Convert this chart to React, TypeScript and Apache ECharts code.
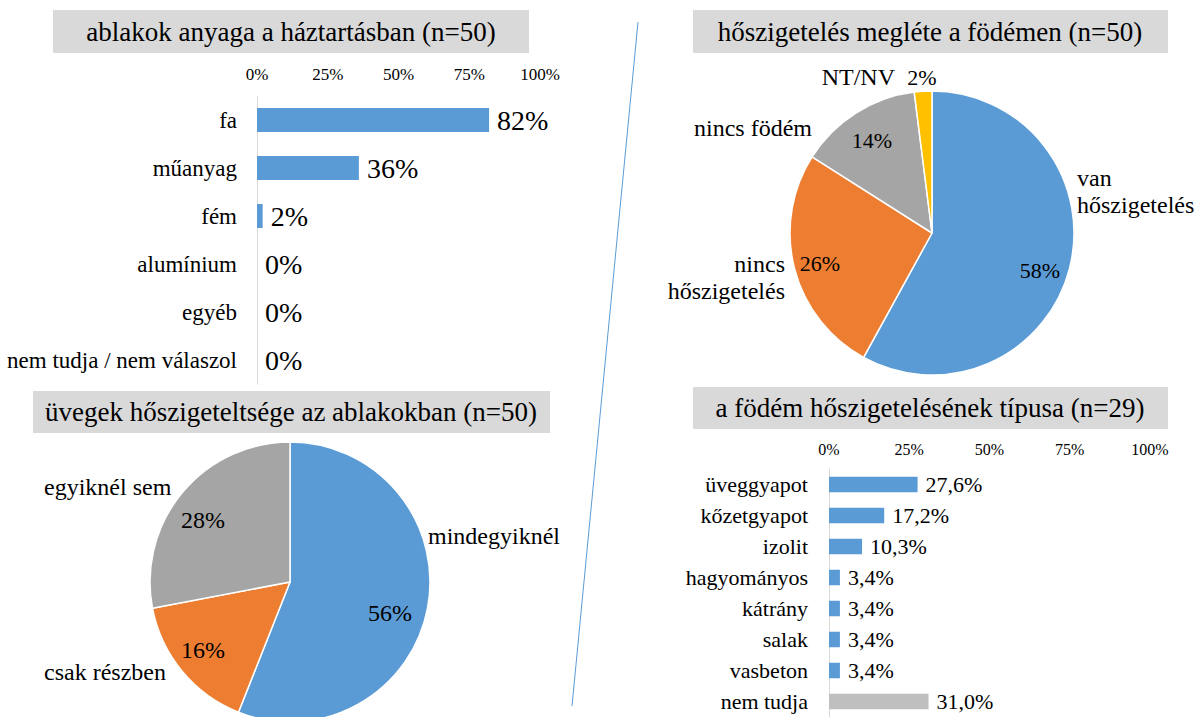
import React, { useEffect, useRef } from "react";
import * as echarts from "echarts";

const FONT = "Liberation Serif";

// top-left bar chart
const materialCats = ["fa", "műanyag", "fém", "alumínium", "egyéb", "nem tudja / nem válaszol"];
const materialVals = [82, 36, 2, 0, 0, 0];

// bottom-right bar chart
const insulTypeCats = ["üveggyapot", "kőzetgyapot", "izolit", "hagyományos", "kátrány", "salak", "vasbeton", "nem tudja"];
const insulTypeVals = [27.6, 17.2, 10.3, 3.4, 3.4, 3.4, 3.4, 31.0];

// bottom-left pie
const glassNames = ["mindegyiknél", "csak részben", "egyiknél sem"];
const glassVals = [56, 16, 28];

// top-right pie
const ceilNames = ["van\nhőszigetelés", "nincs\nhőszigetelés", "nincs födém", "NT/NV"];
const ceilVals = [58, 26, 14, 2];

const titles = [
  "ablakok anyaga a háztartásban (n=50)",
  "üvegek hőszigeteltsége az ablakokban (n=50)",
  "hőszigetelés megléte a födémen (n=50)",
  "a födém hőszigetelésének típusa (n=29)",
];

// layout (positions only)
const titleBoxes = [
  { x: 53, y: 10, w: 476, h: 43, cx: 291 },
  { x: 33, y: 391, w: 517, h: 42, cx: 291 },
  { x: 693, y: 10, w: 475, h: 43, cx: 930 },
  { x: 693, y: 387, w: 475, h: 42, cx: 930 },
];
const glassPctPos = [[390, 613], [203, 650], [203, 520]];
const glassNamePos: [number, number, string][] = [[428, 536, "left"], [44, 672, "left"], [44, 487, "left"]];
const ceilPctPos = [[1040, 270], [820, 263], [872, 140], [922, 77]];
const ceilNamePos: [number, number, string][] = [[1077, 191, "left"], [785, 277, "right"], [812, 128, "right"], [895, 77, "right"]];

const BLUE = "#5B9BD5";
const ORANGE = "#ED7D31";
const GRAY = "#A5A5A5";
const YELLOW = "#FFC000";
const LIGHTGRAY = "#BFBFBF";

export default function App() {
  const ref = useRef<HTMLDivElement>(null);
  useEffect(() => {
    if (!ref.current) return;
    const chart = echarts.init(ref.current, null, { renderer: "svg" });
    const txt = { fontFamily: FONT, color: "#000" };

    const valueAxis = (gridIndex: number, fontSize: number, margin: number) => ({
      type: "value",
      gridIndex,
      position: "top",
      min: 0,
      max: 100,
      interval: 25,
      axisLine: { show: false },
      axisTick: { show: false },
      splitLine: { show: false },
      axisLabel: { ...txt, fontSize, margin, formatter: "{value}%" },
    });
    const catAxis = (gridIndex: number, data: string[], fontSize: number, margin: number) => ({
      type: "category",
      gridIndex,
      data,
      inverse: true,
      axisLine: { show: true, lineStyle: { color: "#D9D9D9", width: 1 } },
      axisTick: { show: false },
      axisLabel: { ...txt, fontSize, margin },
    });

    const posLayout = (pos: number[][]) => (p: any) => ({
      x: pos[p.dataIndex][0],
      y: pos[p.dataIndex][1],
      align: "center",
      verticalAlign: "middle",
    });
    const nameLayout = (pos: [number, number, string][]) => (p: any) => ({
      x: pos[p.dataIndex][0],
      y: pos[p.dataIndex][1],
      align: pos[p.dataIndex][2],
      verticalAlign: "middle",
    });

    const graphics: any[] = [];
    titles.forEach((t, i) => {
      const b = titleBoxes[i];
      graphics.push({ type: "rect", shape: { x: b.x, y: b.y, width: b.w, height: b.h }, style: { fill: "#D9D9D9" }, z: 0 });
      graphics.push({
        type: "text",
        x: b.cx,
        y: b.y + b.h / 2,
        style: { text: t, fontFamily: FONT, fontSize: 27, fill: "#000", align: "center", verticalAlign: "middle" },
        z: 1,
      });
    });
    graphics.push({ type: "line", shape: { x1: 638, y1: 22, x2: 572, y2: 706 }, style: { stroke: BLUE, lineWidth: 1 } });

    chart.setOption({
      animation: false,
      backgroundColor: "#fff",
      grid: [
        { left: 257, top: 96, width: 283, height: 288 },
        { left: 829, top: 469, width: 321, height: 254 },
      ],
      xAxis: [valueAxis(0, 17, 13), valueAxis(1, 16, 12)],
      yAxis: [catAxis(0, materialCats, 23, 20), catAxis(1, insulTypeCats, 22, 21)],
      graphic: graphics,
      series: [
        {
          type: "bar",
          xAxisIndex: 0,
          yAxisIndex: 0,
          barWidth: "50%",
          data: materialVals,
          itemStyle: { color: BLUE },
          label: { show: true, position: "right", distance: 8, ...txt, fontSize: 28, formatter: (p: any) => `${p.value}%` },
        },
        {
          type: "bar",
          xAxisIndex: 1,
          yAxisIndex: 1,
          barWidth: "50%",
          data: insulTypeVals.map((v, i) => ({
            value: v,
            itemStyle: { color: i === insulTypeVals.length - 1 ? LIGHTGRAY : BLUE },
          })),
          label: {
            show: true,
            position: "right",
            distance: 8,
            ...txt,
            fontSize: 22,
            formatter: (p: any) => `${Number(p.value).toFixed(1).replace(".", ",")}%`,
          },
        },
        {
          type: "pie",
          center: [290, 582],
          radius: 140,
          startAngle: 90,
          clockwise: true,
          data: glassNames.map((n, i) => ({ name: n, value: glassVals[i] })),
          color: [BLUE, ORANGE, GRAY],
          itemStyle: { borderColor: "#fff", borderWidth: 1.5 },
          label: { show: true, position: "inside", ...txt, fontSize: 24, formatter: "{c}%" },
          labelLine: { show: false },
          labelLayout: posLayout(glassPctPos),
        },
        {
          type: "pie",
          center: [290, 582],
          radius: 140,
          startAngle: 90,
          clockwise: true,
          silent: true,
          data: glassNames.map((n, i) => ({ name: n, value: glassVals[i] })),
          itemStyle: { color: "rgba(0,0,0,0)", borderWidth: 0 },
          label: { show: true, position: "outside", overflow: "none", ...txt, fontSize: 24, formatter: "{b}" },
          labelLine: { show: false },
          labelLayout: nameLayout(glassNamePos),
        },
        {
          type: "pie",
          center: [932, 233],
          radius: 142,
          startAngle: 90,
          clockwise: true,
          data: ceilNames.map((n, i) => ({ name: n, value: ceilVals[i] })),
          color: [BLUE, ORANGE, GRAY, YELLOW],
          itemStyle: { borderColor: "#fff", borderWidth: 1.5 },
          label: { show: true, position: "inside", ...txt, fontSize: 22, formatter: "{c}%" },
          labelLine: { show: false },
          labelLayout: posLayout(ceilPctPos),
        },
        {
          type: "pie",
          center: [932, 233],
          radius: 142,
          startAngle: 90,
          clockwise: true,
          silent: true,
          data: ceilNames.map((n, i) => ({ name: n, value: ceilVals[i] })),
          itemStyle: { color: "rgba(0,0,0,0)", borderWidth: 0 },
          label: { show: true, position: "outside", overflow: "none", ...txt, fontSize: 24, lineHeight: 27, formatter: "{b}" },
          labelLine: { show: false },
          labelLayout: nameLayout(ceilNamePos),
        },
      ],
    });
    return () => chart.dispose();
  }, []);
  return <div ref={ref} style={{ position: "absolute", left: 0, top: 0, width: 1197, height: 717 }} />;
}
